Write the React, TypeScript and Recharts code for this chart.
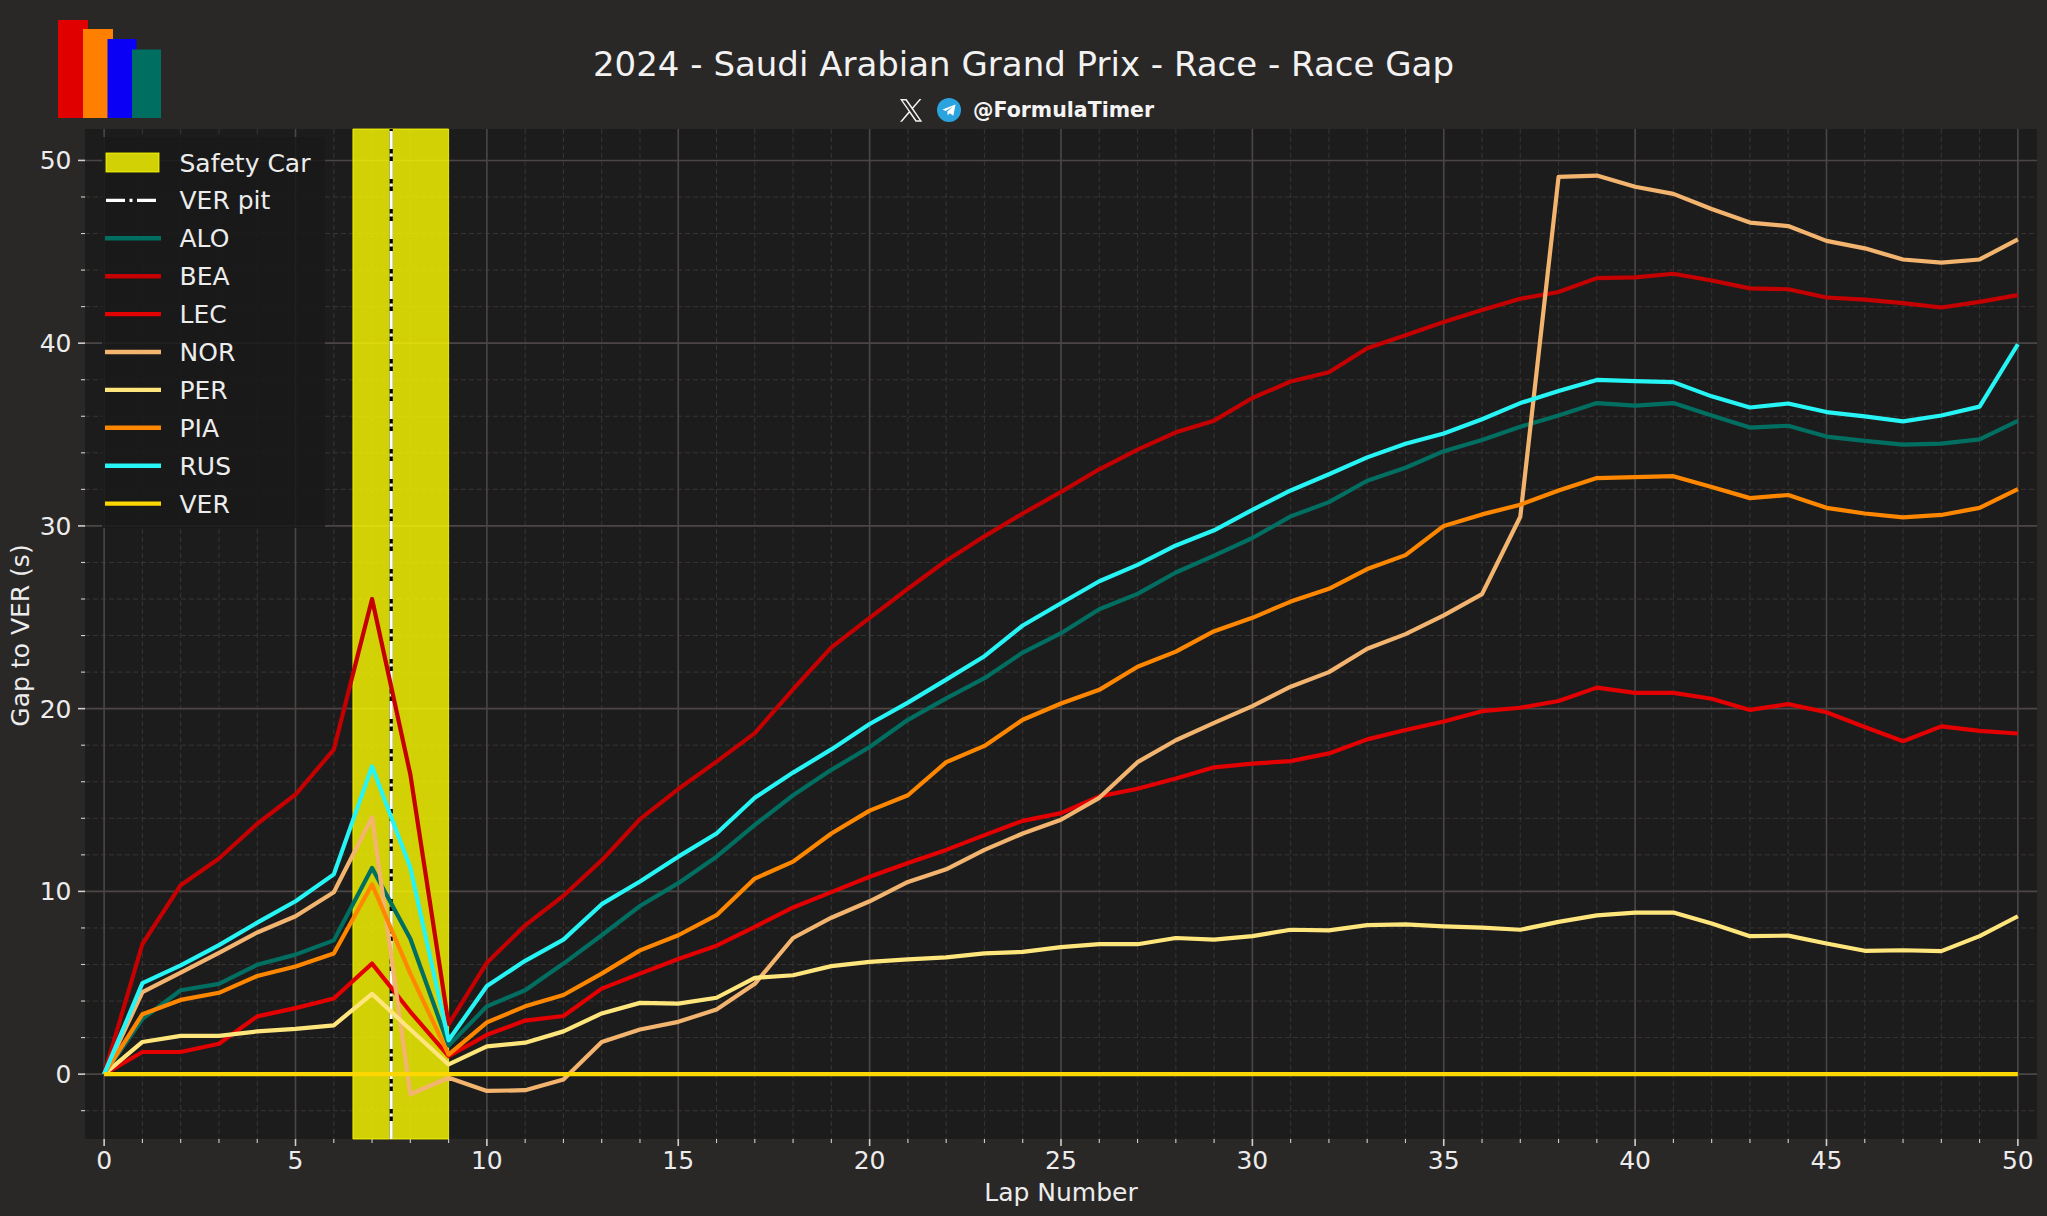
import React from "react";
import {
  LineChart,
  Line,
  XAxis,
  YAxis,
  CartesianGrid,
  ReferenceArea,
  ReferenceLine,
} from "recharts";

// lap-by-lap gap to VER (s)
const laps = [
  0, 1, 2, 3, 4, 5, 6, 7, 8, 9, 10, 11, 12, 13, 14, 15, 16, 17, 18, 19, 20, 21, 22, 23, 24, 25,
  26, 27, 28, 29, 30, 31, 32, 33, 34, 35, 36, 37, 38, 39, 40, 41, 42, 43, 44, 45, 46, 47, 48, 49, 50,
];
const alo = [
  0, 3.02, 4.59, 4.94, 5.99, 6.54, 7.32, 11.28, 7.41, 1.56, 3.71, 4.59, 6.05, 7.6, 9.2, 10.45,
  11.9, 13.64, 15.26, 16.65, 17.9, 19.39, 20.56, 21.67, 23.07, 24.13, 25.44, 26.28, 27.45, 28.37,
  29.34, 30.52, 31.3, 32.47, 33.18, 34.09, 34.7, 35.43, 36.04, 36.72, 36.58, 36.72, 36.04, 35.38,
  35.48, 34.89, 34.65, 34.45, 34.5, 34.74, 35.75,
];
const bea = [
  0, 7.12, 10.34, 11.8, 13.7, 15.3, 17.76, 26.0, 16.4, 2.73, 6.1, 8.14, 9.76, 11.7, 13.95, 15.6,
  17.1, 18.66, 21.06, 23.35, 24.97, 26.56, 28.09, 29.43, 30.68, 31.86, 33.1, 34.17, 35.12, 35.76,
  37.0, 37.9, 38.41, 39.72, 40.43, 41.16, 41.82, 42.43, 42.8, 43.56, 43.6, 43.8, 43.43, 43.0, 42.95,
  42.5, 42.38, 42.19, 41.95, 42.26, 42.63,
];
const lec = [
  0, 1.21, 1.21, 1.66, 3.16, 3.61, 4.14, 6.05, 3.41, 0.98, 2.15, 2.93, 3.18, 4.68, 5.5, 6.3, 7.03,
  8.06, 9.12, 9.96, 10.8, 11.55, 12.27, 13.08, 13.86, 14.28, 15.2, 15.62, 16.18, 16.79, 16.99, 17.13,
  17.55, 18.32, 18.83, 19.3, 19.86, 20.05, 20.42, 21.15, 20.86, 20.86, 20.54, 19.93, 20.25, 19.8,
  19.0, 18.22, 19.03, 18.78, 18.64,
];
const nor = [
  0, 4.49, 5.56, 6.63, 7.75, 8.64, 9.95, 14.05, -1.1, -0.2, -0.92, -0.88, -0.29, 1.76, 2.44, 2.86,
  3.54, 4.94, 7.45, 8.56, 9.46, 10.52, 11.21, 12.27, 13.17, 13.92, 15.12, 17.07, 18.27, 19.22, 20.14,
  21.2, 22.0, 23.28, 24.08, 25.1, 26.27, 30.5, 49.1, 49.17, 48.56, 48.17, 47.34, 46.6, 46.41, 45.6,
  45.19, 44.58, 44.41, 44.58, 45.68,
];
const per = [
  0, 1.76, 2.09, 2.09, 2.34, 2.48, 2.67, 4.39, 2.44, 0.53, 1.52, 1.72, 2.34, 3.32, 3.9, 3.86, 4.18,
  5.27, 5.41, 5.91, 6.14, 6.28, 6.39, 6.61, 6.69, 6.95, 7.11, 7.11, 7.45, 7.36, 7.55, 7.9, 7.87, 8.15,
  8.2, 8.09, 8.02, 7.9, 8.33, 8.69, 8.84, 8.84, 8.24, 7.55, 7.58, 7.15, 6.75, 6.78, 6.73, 7.55, 8.64,
];
const pia = [
  0, 3.28, 4.06, 4.45, 5.37, 5.89, 6.6, 10.38, 5.5, 1.07, 2.83, 3.71, 4.33, 5.5, 6.77, 7.6, 8.7,
  10.7, 11.63, 13.17, 14.42, 15.26, 17.07, 17.96, 19.39, 20.28, 21.03, 22.29, 23.12, 24.24, 24.97,
  25.86, 26.56, 27.64, 28.4, 30.0, 30.63, 31.16, 31.94, 32.62, 32.67, 32.72, 32.13, 31.52, 31.69,
  30.99, 30.68, 30.47, 30.6, 30.99, 32.01,
];
const rus = [
  0, 4.98, 5.95, 7.06, 8.29, 9.46, 10.93, 16.84, 11.3, 1.85, 4.82, 6.2, 7.36, 9.3, 10.54, 11.9,
  13.17, 15.12, 16.5, 17.77, 19.16, 20.33, 21.59, 22.87, 24.55, 25.77, 26.97, 27.87, 28.93, 29.76,
  30.88, 31.94, 32.83, 33.75, 34.5, 35.06, 35.84, 36.72, 37.38, 37.99, 37.92, 37.87, 37.09, 36.48,
  36.7, 36.23, 35.99, 35.72, 36.04, 36.53, 39.94,
];
const ver = [
  0, 0, 0, 0, 0, 0, 0, 0, 0, 0, 0, 0, 0, 0, 0, 0, 0, 0, 0, 0, 0, 0, 0, 0, 0, 0, 0, 0, 0, 0, 0, 0, 0,
  0, 0, 0, 0, 0, 0, 0, 0, 0, 0, 0, 0, 0, 0, 0, 0, 0, 0,
];

const safetyCarLaps = [6.5, 9];
const verPitLap = 7.5;

const xMajorTicks = [0, 5, 10, 15, 20, 25, 30, 35, 40, 45, 50];
const xMinorTicks = laps;
const yMajorTicks = [0, 10, 20, 30, 40, 50];
const yMinorTicks = [
  -2, 0, 2, 4, 6, 8, 10, 12, 14, 16, 18, 20, 22, 24, 26, 28, 30, 32, 34, 36, 38, 40, 42, 44, 46, 48, 50,
];

const driverCodes = ["ALO", "BEA", "LEC", "NOR", "PER", "PIA", "RUS", "VER"];
const driverSeries = [alo, bea, lec, nor, per, pia, rus, ver];
const driverColors: Record<string, string> = {
  ALO: "#006f62",
  BEA: "#c40000",
  LEC: "#e20000",
  NOR: "#f2b46e",
  PER: "#ffe67c",
  PIA: "#ff8700",
  RUS: "#27f4f4",
  VER: "#ffd700",
};

const rows = laps.map((lap, i) => {
  const row: Record<string, number> = { lap };
  driverCodes.forEach((code, k) => {
    row[code] = driverSeries[k][i];
  });
  return row;
});

const W = 2047;
const H = 1216;
const FONT = "DejaVu Sans";
const FIG_BG = "#2a2727";
const PLOT_BG = "#1d1c1c";
const TEXT = "#ececec";
const TICK = "#cfcfcf";
const SC_YELLOW = "#ffff00";

function XTick(props: any) {
  const { x, y, payload } = props;
  const major = xMajorTicks.includes(payload.value);
  return (
    <g>
      <line x1={x} x2={x} y1={y} y2={y + (major ? 7 : 4)} stroke={TICK} strokeWidth={major ? 1.6 : 1.1} />
      {major && (
        <text x={x} y={y + 30} textAnchor="middle" fill={TEXT} fontSize={25} fontFamily={FONT}>
          {payload.value}
        </text>
      )}
    </g>
  );
}

function YTick(props: any) {
  const { x, y, payload } = props;
  const major = yMajorTicks.includes(payload.value);
  return (
    <g>
      <line x1={x - (major ? 7 : 4)} x2={x} y1={y} y2={y} stroke={TICK} strokeWidth={major ? 1.6 : 1.1} />
      {major && (
        <text x={x - 13.5} y={y + 9} textAnchor="end" fill={TEXT} fontSize={25} fontFamily={FONT}>
          {payload.value}
        </text>
      )}
    </g>
  );
}

function Header() {
  return (
    <g>
      {/* logo */}
      <rect x={58} y={20} width={30} height={98} fill="#e10000" />
      <rect x={83} y={29} width={30} height={89} fill="#ff8000" />
      <rect x={107.5} y={39} width={29} height={79} fill="#0a00f5" />
      <rect x={132} y={49.5} width={29} height={68.5} fill="#006f62" />

      <text x={1023.5} y={75.5} textAnchor="middle" fill="#f2f2f2" fontSize={34} fontFamily={FONT}>
        2024 - Saudi Arabian Grand Prix - Race - Race Gap
      </text>

      <g transform="translate(900,99) scale(0.0185)">
        <path
          fill="#f2f2f2"
          d="M714.163 519.284L1160.89 0H1055.03L667.137 450.887L357.328 0H0L468.492 681.821L0 1226.37H105.866L515.491 750.218L842.672 1226.37H1200L714.163 519.284ZM569.165 687.828L521.697 619.934L144.011 79.6944H306.615L611.412 515.685L658.88 583.579L1055.08 1150.3H892.476L569.165 687.828Z"
        />
      </g>
      <circle cx={949} cy={110} r={12} fill="#2aa3df" />
      <path d="M942.5 109.5 L955.5 104.5 L953.3 115.8 L949.8 113.2 L947.6 115.3 L947.3 111.6 L953 106.6 L945.6 111 Z" fill="#ffffff" />
      <text x={973} y={116.7} fill="#f4f4f4" fontSize={20.5} fontWeight="bold" fontFamily={FONT}>
        @FormulaTimer
      </text>

      {/* axis titles */}
      <text x={1061} y={1200.5} textAnchor="middle" fill={TEXT} fontSize={25} fontFamily={FONT}>
        Lap Number
      </text>
      <text
        transform="translate(28.5,635.5) rotate(-90)"
        textAnchor="middle"
        fill={TEXT}
        fontSize={25}
        fontFamily={FONT}
      >
        Gap to VER (s)
      </text>
    </g>
  );
}

function LegendBox() {
  const rowY = (i: number) => 162.5 + 37.9 * i;
  return (
    <g>
      <rect x={102} y={137} width={223} height={391} fill="#191919" fillOpacity={0.82} />
      <rect x={106} y={153} width={53} height={19} fill={SC_YELLOW} fillOpacity={0.8} stroke={SC_YELLOW} strokeOpacity={0.8} />
      <text x={179.5} y={rowY(0) + 9} fill={TEXT} fontSize={25} fontFamily={FONT}>
        Safety Car
      </text>
      <line x1={106} x2={157} y1={rowY(1)} y2={rowY(1)} stroke="#ffffff" strokeWidth={3.2} strokeDasharray="19 4.5 3 4.5" />
      <text x={179.5} y={rowY(1) + 9} fill={TEXT} fontSize={25} fontFamily={FONT}>
        VER pit
      </text>
      {driverCodes.map((code, k) => (
        <g key={code}>
          <line x1={105} x2={161} y1={rowY(k + 2)} y2={rowY(k + 2)} stroke={driverColors[code]} strokeWidth={4.4} />
          <text x={179.5} y={rowY(k + 2) + 9} fill={TEXT} fontSize={25} fontFamily={FONT}>
            {code}
          </text>
        </g>
      ))}
    </g>
  );
}

export default function App() {
  return (
    <div style={{ position: "relative", width: W, height: H, background: FIG_BG, fontFamily: FONT }}>
      <style>{`body{margin:0;background:${FIG_BG};}`}</style>
      <LineChart width={W} height={H} data={rows} margin={{ top: 129, right: 10, bottom: 0, left: 0 }}>
        <CartesianGrid
          fill={PLOT_BG}
          stroke="#393434"
          strokeWidth={1}
          strokeDasharray="5 3"
          verticalValues={xMinorTicks}
          horizontalValues={yMinorTicks}
        />
        <CartesianGrid
          stroke="#4b4545"
          strokeWidth={1.6}
          verticalValues={xMajorTicks}
          horizontalValues={yMajorTicks}
        />
        <XAxis
          dataKey="lap"
          type="number"
          domain={[-0.5, 50.5]}
          ticks={xMinorTicks}
          interval={0}
          allowDataOverflow
          axisLine={false}
          tickLine={false}
          tickSize={0}
          tickMargin={0}
          height={77}
          tick={<XTick />}
        />
        <YAxis
          type="number"
          domain={[-3.55, 51.72]}
          ticks={yMinorTicks}
          interval={0}
          allowDataOverflow
          axisLine={false}
          tickLine={false}
          tickSize={0}
          tickMargin={0}
          width={85}
          tick={<YTick />}
        />
        <ReferenceArea
          x1={safetyCarLaps[0]}
          x2={safetyCarLaps[1]}
          fill={SC_YELLOW}
          fillOpacity={0.8}
          stroke={SC_YELLOW}
          strokeOpacity={0.8}
          strokeWidth={1}
          zIndex={-50}
        />
        <ReferenceLine x={verPitLap} stroke="#000000" strokeWidth={3.2} zIndex={-40} />
        <ReferenceLine x={verPitLap} stroke="#ffffff" strokeWidth={3.2} strokeDasharray="18 4.5 3 4.5" zIndex={-39} />
        {driverCodes.map((code) => (
          <Line
            key={code}
            type="linear"
            dataKey={code}
            stroke={driverColors[code]}
            strokeWidth={4.2}
            strokeLinejoin="round"
            dot={false}
            activeDot={false}
            isAnimationActive={false}
          />
        ))}
      </LineChart>
      <svg width={W} height={H} style={{ position: "absolute", left: 0, top: 0, pointerEvents: "none" }}>
        <Header />
        <LegendBox />
      </svg>
    </div>
  );
}
